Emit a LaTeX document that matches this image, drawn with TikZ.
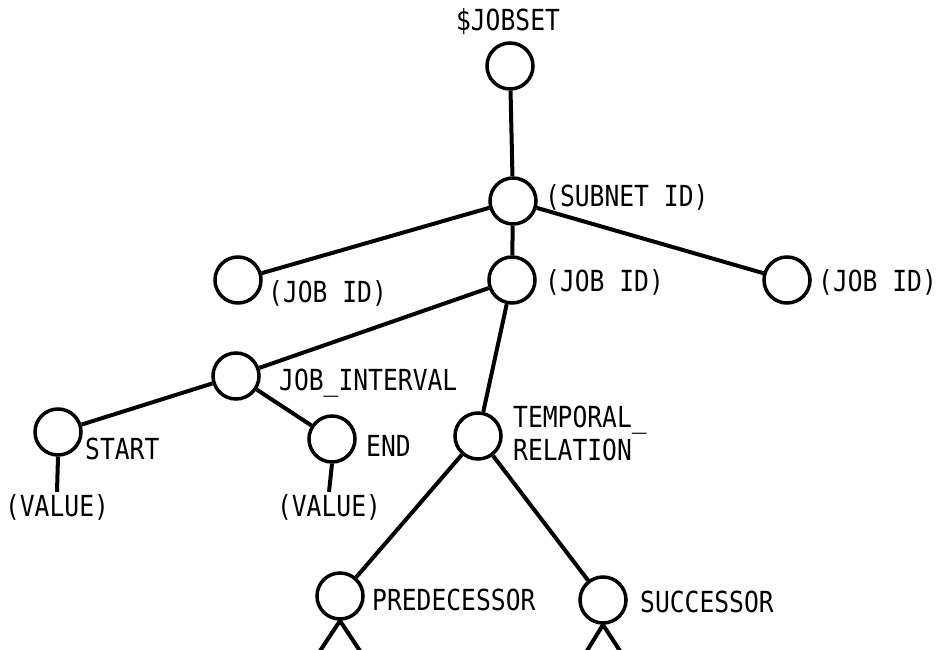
\documentclass[tikz,border=0pt]{standalone}
\usepackage{fontspec}
\newfontfamily\typefont[FakeStretch=0.85]{DejaVu Sans Mono}
\usetikzlibrary{positioning}

\begin{document}
\begin{tikzpicture}[x=1pt,y=-1pt,
  vtx/.style={circle,draw,line width=3.5pt,minimum size=46pt,inner sep=0pt},
  lbl/.style={anchor=west,inner sep=0pt,font=\typefont\fontsize{29}{33}\selectfont},
  edge/.style={line width=4pt}]
  \useasboundingbox (0,0) rectangle (943,650);
  % tree nodes
  \node[vtx] (jobset)   at (510,66)  {};
  \node[vtx] (subnet)   at (513,201) {};
  \node[vtx] (jobl)     at (238,280) {};
  \node[vtx] (jobm)     at (512,280) {};
  \node[vtx] (jobr)     at (787,280) {};
  \node[vtx] (interval) at (236,376) {};
  \node[vtx] (start)    at (58,432)  {};
  \node[vtx] (end)      at (332,439) {};
  \node[vtx] (temporal) at (478,436) {};
  \node[vtx] (pred)     at (340,596) {};
  \node[vtx] (succ)     at (603,600) {};
  % labels
  \node[lbl,anchor=center] (jobsettxt) at (508,22) {\$JOBSET};
  \node[lbl] (subnettxt)   at (545,197) {(SUBNET ID)};
  \node[lbl] (jobltxt)     at (268,293) {(JOB ID)};
  \node[lbl] (jobmtxt)     at (545,282) {(JOB ID)};
  \node[lbl] (jobrtxt)     at (818,282) {(JOB ID)};
  \node[lbl] (intervaltxt) at (279,383) {JOB\_INTERVAL};
  \node[lbl] (starttxt)    at (85,449)  {START};
  \node[lbl] (endtxt)      at (366,446) {END};
  \node[lbl,align=left] (temporaltxt) at (513,433) {TEMPORAL\_\\RELATION};
  \node[lbl] (predtxt)     at (372,600) {PREDECESSOR};
  \node[lbl] (succtxt)     at (640,602) {SUCCESSOR};
  \node[lbl,anchor=center,inner sep=2pt] (valstart) at (57,507)  {(VALUE)};
  \node[lbl,anchor=center,inner sep=2pt] (valend)   at (329,507) {(VALUE)};
  % open ends at the bottom edge
  \coordinate (p1) at (318,654);
  \coordinate (p2) at (362,654);
  \coordinate (s1) at (585,654);
  \coordinate (s2) at (622,654);
  % connectors
  \foreach \a/\b in {jobset/subnet,subnet/jobl,subnet/jobm,subnet/jobr,
    jobm/interval,jobm/temporal,interval/start,interval/end,
    temporal/pred,temporal/succ} {
    \draw[edge] (\a) -- (\b);
  }
  \draw[edge] (start.south) -- (valstart.north);
  \draw[edge] (end.south) -- (valend.north);
  \draw[edge] (p1) -- (pred.south) -- (p2);
  \draw[edge] (s1) -- (succ.south) -- (s2);
\end{tikzpicture}
\end{document}
